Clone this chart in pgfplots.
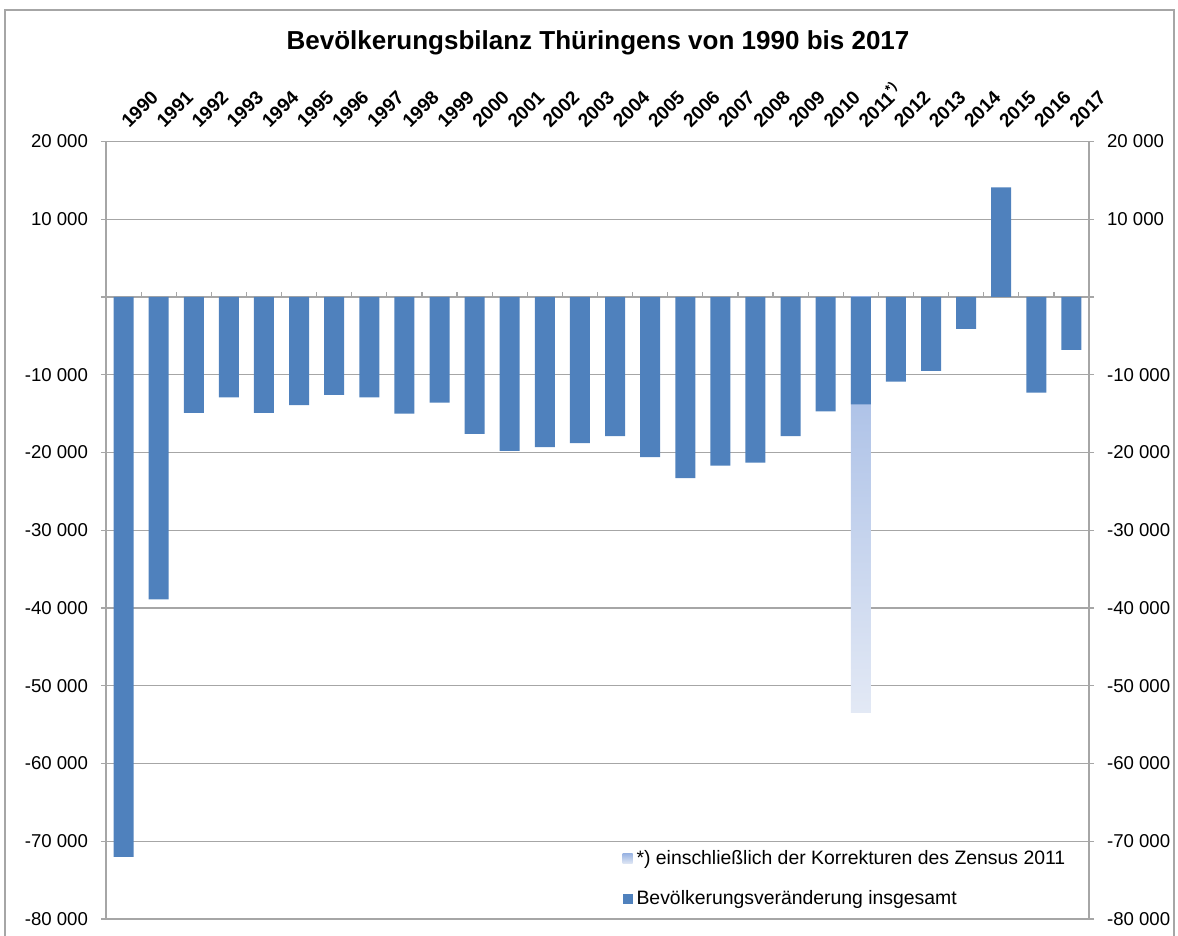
\documentclass[border=0pt]{standalone}
\usepackage{fontspec}
\setmainfont{Liberation Sans}
\usepackage{pgfplots}
\pgfplotsset{compat=1.18}
\definecolor{barblue}{HTML}{4F81BD}
\definecolor{lighttop}{RGB}{157,182,227}
\definecolor{lightbot}{HTML}{E3E9F5}
\definecolor{gridgray}{HTML}{A6A6A6}
\begin{document}
\begin{tikzpicture}
\useasboundingbox (-53pt,-8.5pt) rectangle (536pt,459.5pt);
\draw[gridgray, line width=0.8pt] (-50.5pt,-20pt) -- (-50.5pt,454.5pt) -- (534pt,454.5pt) -- (534pt,-20pt);
\node[font=\fontsize{13}{15}\selectfont\bfseries] at (246pt,438pt) {Bevölkerungsbilanz Thüringens von 1990 bis 2017};
\begin{axis}[
  at={(0,0)}, anchor=south west,
  scale only axis, width=491.5pt, height=388.75pt,
  xmin=-0.5, xmax=27.5, ymin=-80000, ymax=20000,
  scaled y ticks=false,
  xtick={0,...,27},
  xticklabels={1990,1991,1992,1993,1994,1995,1996,1997,1998,1999,2000,2001,2002,2003,2004,2005,2006,2007,2008,2009,2010,2011\textsuperscript{*)},2012,2013,2014,2015,2016,2017},
  xticklabel pos=right,
  major x tick style={draw=none},
  xticklabel shift=3.5pt,
  xticklabel style={xshift=3pt, rotate=45, anchor=south west, inner sep=0pt, font=\fontsize{9.5}{11}\selectfont\bfseries},
  ytick={-80000,-70000,-60000,-50000,-40000,-30000,-20000,-10000,0,10000,20000},
  yticklabels={-80 000,-70 000,-60 000,-50 000,-40 000,-30 000,-20 000,-10 000,,10 000,20 000},
  yticklabel style={font=\fontsize{9.3}{11}\selectfont, xshift=-3pt},
  ymajorgrids, grid style={gridgray, line width=0.6pt},
  axis line style={gridgray, line width=0.6pt},
  tick align=outside, major tick length=2.5pt,
  ytick style={gridgray, line width=0.6pt},
  legend style={at={(0.521,0.099)}, anchor=north west, draw=none, fill=white,
    font=\fontsize{9.7}{11}\selectfont, row sep=7.5pt, inner sep=2pt},
  legend cell align=left,
]
\addplot[ybar, bar width=0.57, bar shift=0pt, draw=none, top color=lighttop, bottom color=lightbot,
  legend image code/.code={\path[draw=none, top color=lighttop, bottom color=lightbot] (0pt,-2.5pt) rectangle (5pt,2.5pt);}]
  coordinates {(21,-53500)};
\addlegendentry{*) einschließlich der Korrekturen des Zensus 2011}
\addplot[ybar, bar width=0.57, bar shift=0pt, draw=none, fill=barblue,
  legend image code/.code={\path[fill=barblue] (0pt,-2.5pt) rectangle (5pt,2.5pt);}]
  coordinates {
  (0,-72000) (1,-38900) (2,-14900) (3,-12900) (4,-14900) (5,-13900) (6,-12600)
  (7,-12900) (8,-15000) (9,-13600) (10,-17600) (11,-19800) (12,-19300) (13,-18800)
  (14,-17900) (15,-20600) (16,-23300) (17,-21700) (18,-21300) (19,-17900) (20,-14700)
  (21,-13800) (22,-10900) (23,-9500) (24,-4100) (25,14100) (26,-12300) (27,-6800)};
\addlegendentry{Bevölkerungsveränderung insgesamt}
\pgfplotsinvokeforeach{0,...,26}{
  \draw[gridgray, line width=0.6pt] (axis cs:#1+0.5,0) -- ++(0pt,2.5pt);
}
\end{axis}
\begin{axis}[
  at={(0,0)}, anchor=south west,
  scale only axis, width=491.5pt, height=388.75pt,
  xmin=-0.5, xmax=27.5, ymin=-80000, ymax=20000,
  scaled y ticks=false,
  hide x axis, axis y line*=right, y axis line style={draw=none},
  ytick={-80000,-70000,-60000,-50000,-40000,-30000,-20000,-10000,0,10000,20000},
  yticklabels={-80 000,-70 000,-60 000,-50 000,-40 000,-30 000,-20 000,-10 000,,10 000,20 000},
  yticklabel style={font=\fontsize{9.3}{11}\selectfont, xshift=3pt},
  tick align=outside, major tick length=2.5pt, ytick style={draw=none},
]
\end{axis}
\end{tikzpicture}
\end{document}
